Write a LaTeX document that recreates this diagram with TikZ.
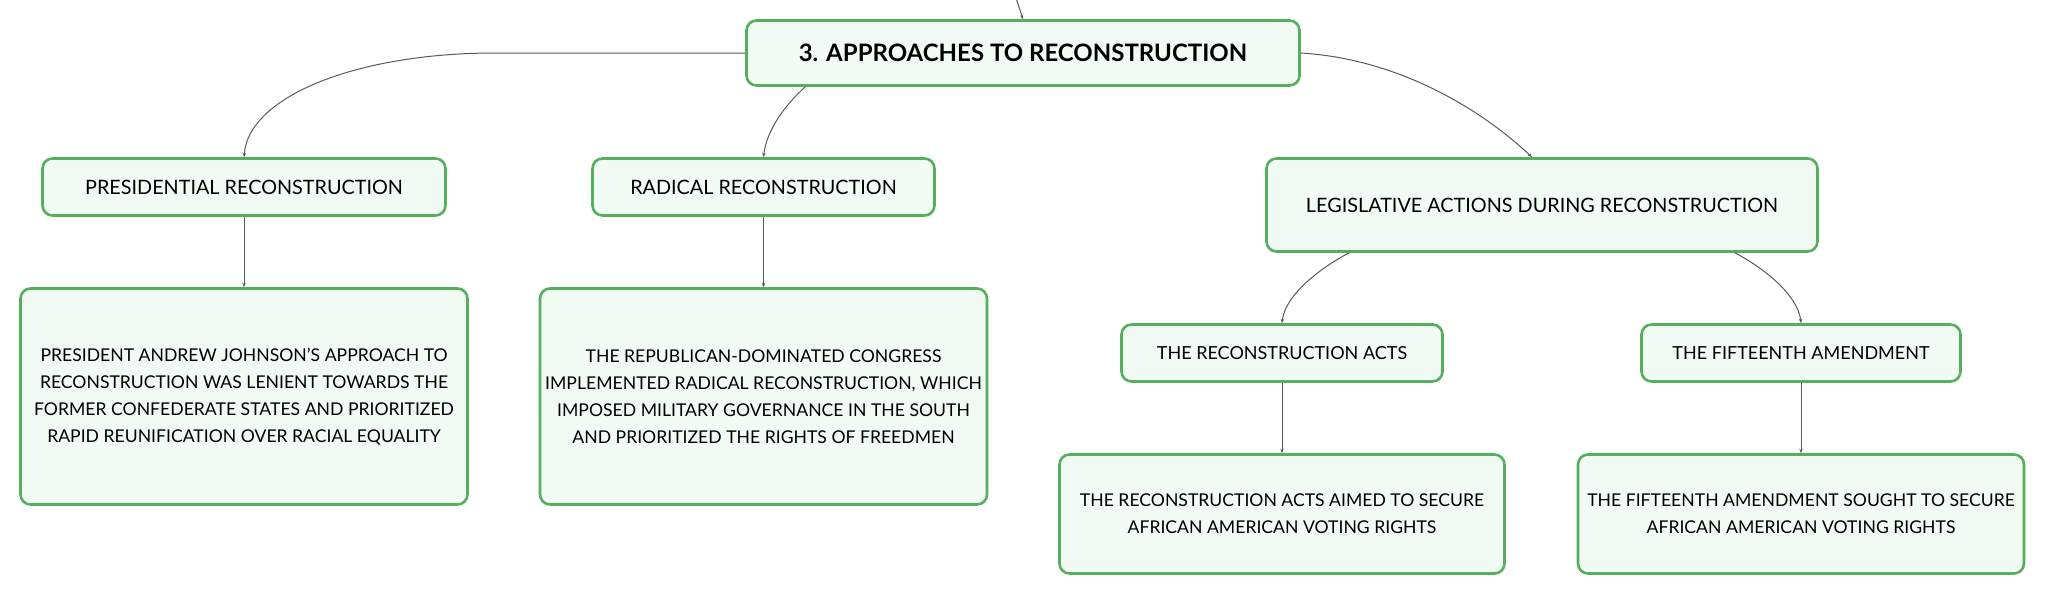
\documentclass[tikz,border=0pt]{standalone}
\usepackage{fontspec}
\setmainfont{Lato}
\usetikzlibrary{arrows.meta}
\definecolor{boxgreen}{RGB}{84,176,92}
\definecolor{boxfill}{RGB}{242,250,244}
\definecolor{linkgray}{RGB}{90,90,90}
\tikzset{
  mmbox/.style={draw=boxgreen, fill=boxfill, line width=2.6pt, rounded corners=10pt,
    inner sep=0pt, align=center, text=black, font=\fontsize{17.6}{27}\selectfont},
  mmlabel/.style={mmbox, font=\fontsize{19.8}{27}\selectfont},
  mmsub/.style={mmbox, font=\fontsize{18}{27}\selectfont},
  mmlink/.style={draw=linkgray, line width=1pt},
  mmarrow/.style={mmlink, -{Stealth[length=4.5pt,width=3.5pt]}},
}
\begin{document}
\begin{tikzpicture}[x=1pt,y=-1pt]
\useasboundingbox (0,0) rectangle (2046,595);
\fill[white] (0,0) rectangle (2046,595);

\node[mmbox, minimum width=553pt, minimum height=65pt, font=\fontsize{24}{28}\selectfont\bfseries] (root) at (1023,53) {3. APPROACHES TO RECONSTRUCTION};

\node[mmlabel, minimum width=403pt, minimum height=57pt] (pres) at (244,187) {PRESIDENTIAL RECONSTRUCTION};
\node[mmlabel, minimum width=342pt, minimum height=57pt] (rad) at (763.5,187) {RADICAL RECONSTRUCTION};
\node[mmlabel, minimum width=551pt, minimum height=93pt] (leg) at (1542,205) {LEGISLATIVE ACTIONS DURING RECONSTRUCTION};

\node[mmbox, minimum width=447pt, minimum height=216pt] (presd) at (244,396.5) {PRESIDENT ANDREW JOHNSON'S APPROACH TO\\RECONSTRUCTION WAS LENIENT TOWARDS THE\\FORMER CONFEDERATE STATES AND PRIORITIZED\\RAPID REUNIFICATION OVER RACIAL EQUALITY};
\node[mmbox, minimum width=447pt, minimum height=216pt] (radd) at (763.5,396.5) {THE REPUBLICAN-DOMINATED CONGRESS\\IMPLEMENTED RADICAL RECONSTRUCTION, WHICH\\IMPOSED MILITARY GOVERNANCE IN THE SOUTH\\AND PRIORITIZED THE RIGHTS OF FREEDMEN};

\node[mmsub, minimum width=321pt, minimum height=57pt] (acts) at (1282,353) {THE RECONSTRUCTION ACTS};
\node[mmsub, minimum width=319pt, minimum height=57pt] (fift) at (1801,353) {THE FIFTEENTH AMENDMENT};

\node[mmbox, minimum width=445pt, minimum height=119pt] (actsd) at (1282,514) {THE RECONSTRUCTION ACTS AIMED TO SECURE\\AFRICAN AMERICAN VOTING RIGHTS};
\node[mmbox, minimum width=446pt, minimum height=119pt] (fiftd) at (1801,514) {THE FIFTEENTH AMENDMENT SOUGHT TO SECURE\\AFRICAN AMERICAN VOTING RIGHTS};

\coordinate (topin) at (1016,-2);
\draw[mmarrow] (topin) -- (root.north);

\draw[mmarrow] (root.west) -- ++(-250,0) .. controls +(-140,0) and +(4,-60) .. (pres.north);
\draw[mmarrow] ([xshift=60pt]root.south west) .. controls +(-20,18) and +(3,-27) .. (rad.north);
\draw[mmarrow] (root.east) .. controls +(99,6) and +(-50,-47) .. ([xshift=-10pt]leg.north);
\draw[mmarrow] ([xshift=84pt]leg.south west) .. controls +(-29,15) and +(3,-28) .. (acts.north);
\draw[mmarrow] ([xshift=-84pt]leg.south east) .. controls +(29,15) and +(-3,-28) .. (fift.north);

\draw[mmarrow] (pres.south) -- (presd.north);
\draw[mmarrow] (rad.south) -- (radd.north);
\draw[mmarrow] (acts.south) -- (actsd.north);
\draw[mmarrow] (fift.south) -- (fiftd.north);
\end{tikzpicture}
\end{document}
